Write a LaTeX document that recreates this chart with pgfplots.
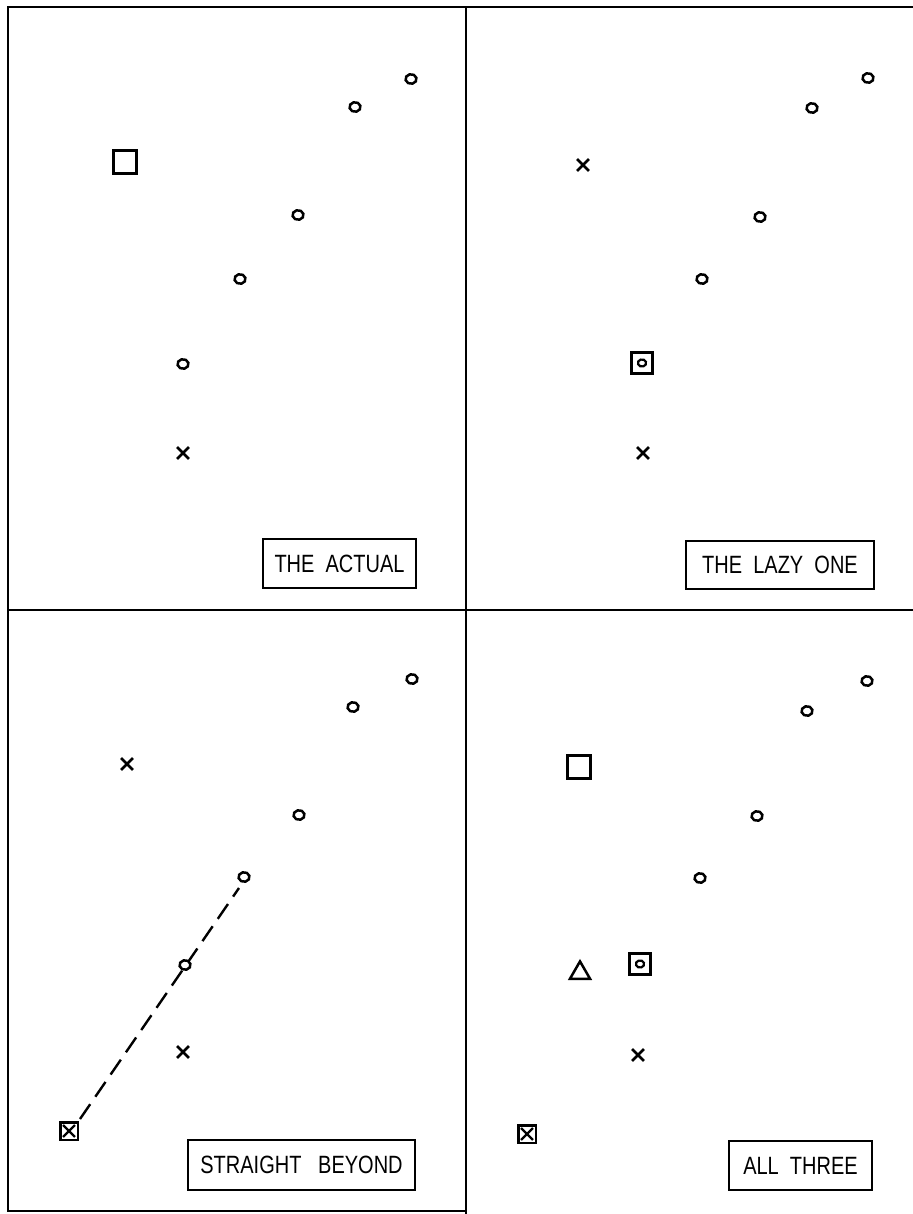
\documentclass[border=0pt]{standalone}
\usepackage{fontspec}
\setmainfont{Liberation Sans}
\usepackage{graphicx}
\usepackage{pgfplots}
\pgfplotsset{compat=1.18}

\pgfplotsset{
  panel/.style={
    scale only axis, ticks=none, y dir=reverse,
    axis line style={line width=1pt, black},
    clip=false,
  },
  circ/.style={only marks, mark=*, mark size=2.4pt,
    mark options={fill=white, draw=black, line width=1.25pt, xscale=1.15, rotate=15}},
  bigsq/.style={only marks, mark=square, mark size=5.8pt,
    mark options={line width=1.2pt}},
  sqmark/.style={only marks, mark=square, mark size=5.2pt,
    mark options={line width=1.25pt}},
  smallsq/.style={only marks, mark=square, mark size=4.4pt,
    mark options={line width=1.3pt}},
  smallcirc/.style={only marks, mark=o, mark size=1.8pt,
    mark options={line width=1.1pt, xscale=1.15, rotate=20}},
  xm/.style={only marks, mark=x, mark size=4.2pt,
    mark options={line width=1.25pt}},
  smallx/.style={only marks, mark=x, mark size=4.2pt,
    mark options={line width=1.2pt}},
  tri/.style={only marks, mark=triangle, mark size=5.8pt,
    mark options={line width=1.25pt}},
}
\newcommand{\lbl}[1]{{\fontsize{12.5pt}{14pt}\selectfont\scalebox{0.8}[1]{#1}}}
\tikzset{lbox/.style={draw, line width=0.8pt, inner sep=0pt, align=center}}

\begin{document}
\begin{tikzpicture}
\path[use as bounding box] (0pt,0pt) rectangle (456pt,607pt);

% ---------- Panel 1: THE ACTUAL ----------
\begin{axis}[panel, at={(4pt,302pt)}, anchor=south west,
  width=229pt, height=301.5pt,
  xmin=8, xmax=466, ymin=7, ymax=610]
\addplot[circ] coordinates {(411,79) (355,107) (298,215) (240,279) (183,364)};
\addplot[bigsq] coordinates {(125,162)};
\addplot[xm] coordinates {(183,453)};
\node[lbox, minimum width=76.5pt, minimum height=24.5pt] at (axis cs:339.5,563.5) {\lbl{THE\ \ ACTUAL}};
\end{axis}

% ---------- Panel 2: THE LAZY ONE ----------
\begin{axis}[panel, at={(233pt,302pt)}, anchor=south west,
  width=225pt, height=301.5pt,
  xmin=466, xmax=916, ymin=7, ymax=610]
\addplot[circ] coordinates {(868,78) (812,108) (760,217) (702,279)};
\addplot[sqmark] coordinates {(642,363)};
\addplot[smallcirc] coordinates {(642,363)};
\addplot[xm] coordinates {(583,165) (643,453)};
\node[lbox, minimum width=94pt, minimum height=24pt] at (axis cs:780,565) {\lbl{THE\ \ LAZY\ \ ONE}};
\end{axis}

% ---------- Panel 3: STRAIGHT BEYOND ----------
\begin{axis}[panel, at={(4pt,1.5pt)}, anchor=south west,
  width=229pt, height=300.5pt,
  xmin=8, xmax=466, ymin=610, ymax=1211]
\addplot[black, line width=1.2pt, dash pattern=on 9pt off 4.5pt] coordinates {(80,1119) (239,888)};
\addplot[circ] coordinates {(412,679) (353,707) (299,815) (244,877) (185,965)};
\addplot[xm] coordinates {(127,764) (183,1052)};
\addplot[smallsq] coordinates {(69,1131)};
\addplot[smallx] coordinates {(69,1131)};
\node[lbox, minimum width=113.5pt, minimum height=25pt] at (axis cs:301.5,1165) {\lbl{STRAIGHT\ \ \ BEYOND}};
\end{axis}

% ---------- Panel 4: ALL THREE ----------
\begin{axis}[panel, at={(233pt,-1pt)}, anchor=south west,
  width=225pt, height=303pt,
  xmin=466, xmax=916, ymin=610, ymax=1216]
\addplot[circ] coordinates {(867,681) (807,711) (757,816) (700,878)};
\addplot[bigsq] coordinates {(579,767)};
\addplot[tri] coordinates {(580,973)};
\addplot[sqmark] coordinates {(640,964)};
\addplot[smallcirc] coordinates {(640,964)};
\addplot[xm] coordinates {(638,1055)};
\addplot[smallsq] coordinates {(527,1134)};
\addplot[smallx] coordinates {(527,1134)};
\node[lbox, minimum width=71.5pt, minimum height=24.5pt] at (axis cs:800.5,1165.5) {\lbl{ALL\ \ THREE}};
\end{axis}
\end{tikzpicture}
\end{document}
